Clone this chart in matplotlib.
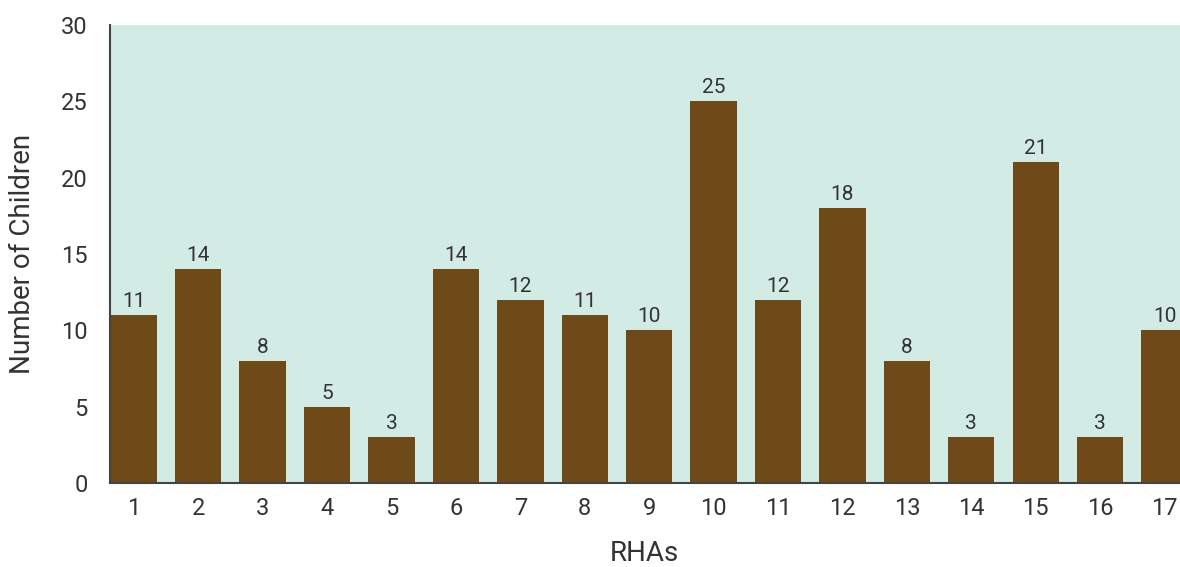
import matplotlib
matplotlib.use("Agg")
import matplotlib.pyplot as plt

plt.rcParams['font.family'] = ['Roboto', 'DejaVu Sans']

rhas = list(range(1, 18))
children = [11, 14, 8, 5, 3, 14, 12, 11, 10, 25, 12, 18, 8, 3, 21, 3, 10]

bar_color = '#6f4a19'
bg_color = '#d3ebe5'
text_color = '#333333'

fig = plt.figure(figsize=(11.8, 5.67), dpi=100)
ax = fig.add_axes([0.093, 0.148, 0.907, 0.808])
ax.set_facecolor(bg_color)

bars = ax.bar(rhas, children, width=0.72, color=bar_color, zorder=2)
for b, v in zip(bars, children):
    ax.annotate(str(v), (b.get_x() + b.get_width() / 2, v), xytext=(0, 3),
                textcoords='offset points', ha='center', va='bottom',
                fontsize=15, color=text_color)

ax.set_xlim(0.627, 17.24)
ax.set_ylim(0, 30)
ax.set_yticks(range(0, 31, 5))
ax.set_xticks(rhas)
ax.tick_params(length=0, labelsize=17, colors=text_color)
ax.tick_params(axis='x', pad=10)
ax.tick_params(axis='y', pad=16)

for s in ['top', 'right']:
    ax.spines[s].set_visible(False)
for s in ['left', 'bottom']:
    ax.spines[s].set_color('#444444')
    ax.spines[s].set_linewidth(1.5)

ax.set_xlabel('RHAs', fontsize=20, color=text_color)
ax.set_ylabel('Number of Children', fontsize=20, color=text_color)
ax.xaxis.set_label_coords(0.5, -0.125)
ax.yaxis.set_label_coords(-0.069, 0.5)

fig.savefig('out.png', dpi=100)
